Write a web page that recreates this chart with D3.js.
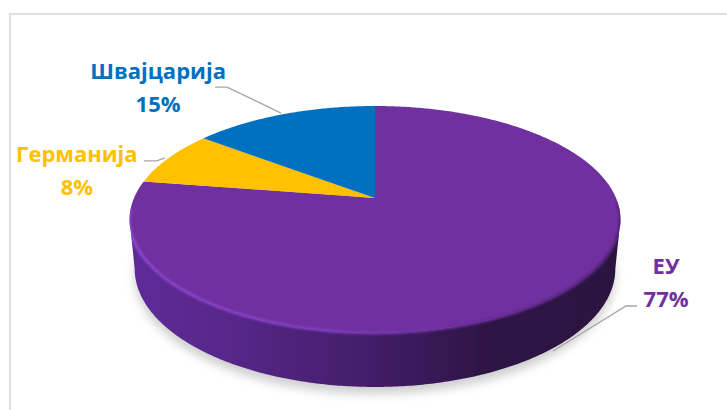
<!DOCTYPE html>
<html>
<head>
<meta charset="utf-8">
<script src="https://cdn.jsdelivr.net/npm/d3@7"></script>
<style>
  html, body { margin: 0; padding: 0; background: #fff; overflow: hidden; }
  text { font-family: "Open Sans", "Noto Sans", sans-serif; font-weight: 700; font-size: 22px; text-anchor: middle; }
</style>
</head>
<body>
<div id="chart"></div>
<script>
  'use strict';

  var categories = ['ЕУ', 'Германија', 'Швајцарија'];
  // the labels show these rounded
  var shares = [77.49, 7.91, 14.6];
  var colors = ['#7030A0', '#FFC000', '#0070C0'];

  var width = 727, height = 410;
  var cx = 375, cy = 198;          // pie vertex on the top face
  var tilt = 0.189;                // perspective strength
  var lineGap = 33;
  var topRim = { rx: 241, ry: 109.4, y: cy };
  var bottomRim = { rx: 236, ry: 114, y: 246.4 };

  // offsets from each slice's rim point: label baseline, leader start, knee and end
  var labelLayout = [
    { rim: bottomRim, dx: 112, dy: -73.6, startDx: -1, startDy: 3.4, kneeDx: 72, kneeDy: -41.6, endDx: 83, endDy: -41.6 },
    { rim: topRim, dx: -92, dy: 4, startDx: -4, startDy: 0, kneeDx: -12, kneeDy: 3, endDx: -25, endDy: 3 },
    { rim: topRim, dx: -125.7, dy: -35, startDx: -2.7, startDy: -1, kneeDx: -56.7, kneeDy: -27, endDx: -68.7, endDy: -27 }
  ];

  function project(rim, angle){
    var u = Math.sin(angle), v = -Math.cos(angle), w = 1 - tilt * v;
    return [cx + rim.rx * u / w, rim.y + rim.ry * v / w];
  }

  function sweep(rim, a0, a1){
    var steps = Math.max(2, Math.ceil(Math.abs(a1 - a0) / 0.01));
    return d3.range(steps + 1).map(function(i){
      return project(rim, a0 + (a1 - a0) * i / steps);
    });
  }

  var line = d3.line();
  var svg = d3.select('#chart').append('svg')
      .attr('width', width)
      .attr('height', height)
      .style('display', 'block');

  var defs = svg.append('defs');

  function blur(id, amount){
    defs.append('filter').attr('id', id)
        .attr('x', '-20%').attr('y', '-20%').attr('width', '140%').attr('height', '140%')
      .append('feGaussianBlur').attr('stdDeviation', amount);
  }
  blur('shadowBlur', 5);
  blur('rimBlur', 1.3);

  function gradient(id, stops){
    var g = defs.append('linearGradient').attr('id', id)
        .attr('gradientUnits', 'userSpaceOnUse')
        .attr('x1', 129).attr('x2', 620).attr('y1', 0).attr('y2', 0);
    stops.forEach(function(s){
      g.append('stop').attr('offset', s[0]).attr('stop-color', s[1]);
    });
  }
  gradient('sideFill', [[0, '#5f2a98'], [0.2, '#57278a'], [0.5, '#421c68'], [0.72, '#2e1546'], [1, '#2c1440']]);
  gradient('rimFill', [[0, '#8a45cc'], [0.3, '#8440c4'], [0.5, '#7a38b2'], [0.68, '#6a2d98'], [1, '#4b2170']]);

  // chart frame, open at the right and bottom of the crop
  svg.append('path')
      .attr('d', line([[10, height], [10, 14], [width, 14]]))
      .attr('fill', 'none')
      .attr('stroke', '#e0e0e0')
      .attr('stroke-width', 2);

  // soft shadow below the disc
  svg.append('path')
      .attr('d', line(sweep(bottomRim, 0, 2 * Math.PI)) + 'Z')
      .attr('transform', 'translate(0,7)')
      .attr('fill', '#a8a8a8')
      .attr('opacity', 0.55)
      .attr('filter', 'url(#shadowBlur)');

  // side wall of the disc
  var wallStart = Math.acos(-tilt), wallEnd = 2 * Math.PI - wallStart;
  var wallPath = line(sweep(topRim, wallStart, wallEnd).concat(sweep(bottomRim, wallEnd, wallStart))) + 'Z';
  svg.append('path')
      .attr('d', wallPath)
      .attr('fill', 'url(#sideFill)');

  var pie = d3.pie().sort(null).value(function(d){ return d; });
  var slices = pie(shares);

  svg.selectAll('.slice')
      .data(slices)
    .enter().append('path')
      .attr('class', 'slice')
      .attr('d', function(d){
        return line([[cx, cy]].concat(sweep(topRim, d.startAngle, d.endAngle))) + 'Z';
      })
      .attr('fill', function(d, i){ return colors[i]; });

  // bevel along the front of the top face, kept inside the disc outline
  var discClip = defs.append('clipPath').attr('id', 'discClip');
  discClip.append('path').attr('d', wallPath);
  discClip.append('path').attr('d', line(sweep(topRim, 0, 2 * Math.PI)) + 'Z');

  svg.append('g')
      .attr('clip-path', 'url(#discClip)')
    .append('path')
      .attr('d', line(sweep(topRim, wallStart - 0.15, wallEnd + 0.1)))
      .attr('fill', 'none')
      .attr('stroke', 'url(#rimFill)')
      .attr('stroke-width', 3)
      .attr('filter', 'url(#rimBlur)');

  // leaders and labels
  var labels = svg.selectAll('.label')
      .data(slices)
    .enter().append('g')
      .attr('class', 'label');

  function rimPoint(d, i){
    return project(labelLayout[i].rim, (d.startAngle + d.endAngle) / 2);
  }

  labels.append('path')
      .attr('d', function(d, i){
        var p = rimPoint(d, i), l = labelLayout[i];
        return line([
          [p[0] + l.startDx, p[1] + l.startDy],
          [p[0] + l.kneeDx, p[1] + l.kneeDy],
          [p[0] + l.endDx, p[1] + l.endDy]
        ]);
      })
      .attr('fill', 'none')
      .attr('stroke', '#a6a6a6')
      .attr('stroke-width', 1.3);

  labels.append('text')
      .attr('x', function(d, i){ return rimPoint(d, i)[0] + labelLayout[i].dx; })
      .attr('y', function(d, i){ return rimPoint(d, i)[1] + labelLayout[i].dy; })
      .attr('fill', function(d, i){ return colors[i]; })
      .text(function(d, i){ return categories[i]; });

  labels.append('text')
      .attr('x', function(d, i){ return rimPoint(d, i)[0] + labelLayout[i].dx; })
      .attr('y', function(d, i){ return rimPoint(d, i)[1] + labelLayout[i].dy + lineGap; })
      .attr('fill', function(d, i){ return colors[i]; })
      .text(function(d){ return Math.round(d.data) + '%'; });
</script>
</body>
</html>
